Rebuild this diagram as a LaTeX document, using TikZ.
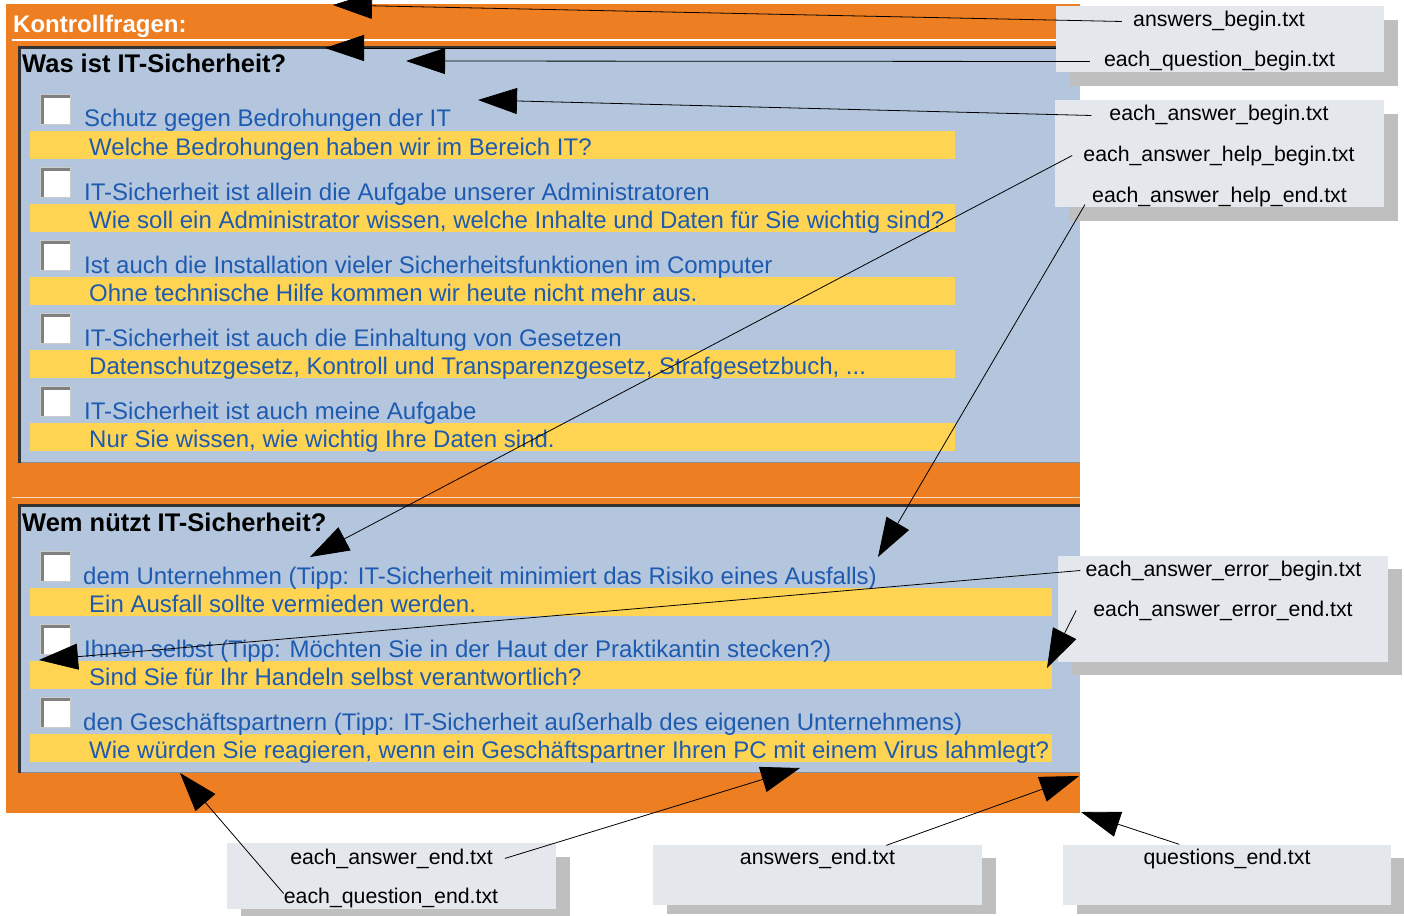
\documentclass[tikz,border=0pt]{standalone}
\usepackage{fontspec}
\setmainfont{Liberation Sans}
\usetikzlibrary{arrows.meta}
\definecolor{orng}{HTML}{EE7E22}
\definecolor{pnl}{HTML}{B3C6DE}
\definecolor{ylw}{HTML}{FFD452}
\definecolor{txtblue}{HTML}{1E5BB0}
\definecolor{lbox}{HTML}{E4E7EC}
\definecolor{shd}{HTML}{BFBFBF}
\definecolor{brd}{HTML}{333333}
\begin{document}
\begin{tikzpicture}[x=1pt,y=-1pt,
  ans/.style={anchor=base west, inner sep=0pt, text=txtblue, font=\fontsize{24}{28}\selectfont},
  hlp/.style={ans},
  ttl/.style={anchor=base west, inner sep=0pt, font=\fontsize{25.5}{30}\selectfont\bfseries},
  cb/.style={anchor=north west, minimum width=30pt, minimum height=30pt, inner sep=0pt, fill=white, draw=gray!40,
    path picture={\draw[line width=7pt, gray] (path picture bounding box.south west) |- (path picture bounding box.north east);}},
  bar/.style={fill=ylw},
  lbl/.style={anchor=base, inner sep=0pt, font=\fontsize{21.3}{25}\selectfont},
  shadow/.style={fill=shd},
  lboxs/.style={fill=lbox},
  conn/.style={line width=0.8pt, -{Triangle[length=39pt,width=26pt]}},
]
\useasboundingbox (0,0) rectangle (1404,915);
% outer orange frame
\fill[orng] (6,4) rectangle (1080,813);
\node[anchor=base west, inner sep=0pt, text=white, font=\fontsize{24}{28}\selectfont\bfseries] (hdr) at (13,33) {Kontrollfragen:};
\draw[white, line width=2pt] (12,40) -- (1080,40);
\draw[white!70!orng, line width=1pt] (12,497) -- (1080,497);
% panel 1
\fill[pnl] (18,46) rectangle (1080,463);
\draw[gray!80!pnl, line width=1pt] (18,462.5) -- (1080,462.5);
\draw[brd, line width=3pt] (19.5,463) -- (19.5,47.5) -- (1080,47.5);
% panel 2
\fill[pnl] (18,504) rectangle (1080,773);
\draw[gray!80!pnl, line width=1.5pt] (18,772.5) -- (1080,772.5);
\draw[brd, line width=3pt] (19.5,773) -- (19.5,505.5) -- (1080,505.5);
% question 1
\node[ttl] (q1) at (22,73) {Was ist IT-Sicherheit?};
\fill[bar] (30,131) rectangle (955,159);
\fill[bar] (30,204) rectangle (955,232);
\fill[bar] (30,277) rectangle (955,305);
\fill[bar] (30,350) rectangle (955,378);
\fill[bar] (30,423) rectangle (955,451);
\node[cb] (c11) at (40,94) {};
\node[cb] (c12) at (40,167) {};
\node[cb] (c13) at (40,240) {};
\node[cb] (c14) at (40,313) {};
\node[cb] (c15) at (40,386) {};
\node[ans] (a11) at (84,127) {Schutz gegen Bedrohungen der IT};
\node[hlp] (h11) at (89,155) {Welche Bedrohungen haben wir im Bereich IT?};
\node[ans] (a12) at (84,200) {IT-Sicherheit ist allein die Aufgabe unserer Administratoren};
\node[hlp] (h12) at (89,228) {Wie soll ein Administrator wissen, welche Inhalte und Daten für Sie wichtig sind?};
\node[ans] (a13) at (84,273) {Ist auch die Installation vieler Sicherheitsfunktionen im Computer};
\node[hlp] (h13) at (89,301) {Ohne technische Hilfe kommen wir heute nicht mehr aus.};
\node[ans] (a14) at (84,346) {IT-Sicherheit ist auch die Einhaltung von Gesetzen};
\node[hlp] (h14) at (89,374) {Datenschutzgesetz, Kontroll und Transparenzgesetz, Strafgesetzbuch, ...};
\node[ans] (a15) at (84,419) {IT-Sicherheit ist auch meine Aufgabe};
\node[hlp] (h15) at (89,447) {Nur Sie wissen, wie wichtig Ihre Daten sind.};
% question 2
\node[ttl] (q2) at (22,531) {Wem nützt IT-Sicherheit?};
\fill[bar] (30,588) rectangle (1052,616);
\fill[bar] (30,661) rectangle (1052,689);
\fill[bar] (30,734) rectangle (1052,762);
\node[cb] (c21) at (40,551) {};
\node[cb] (c22) at (40,624) {};
\node[cb] (c23) at (40,697) {};
\node[ans] (a21) at (83,584) {dem Unternehmen (Tipp: IT-Sicherheit minimiert das Risiko eines Ausfalls)};
\node[hlp] (h21) at (89,612) {Ein Ausfall sollte vermieden werden.};
\node[ans] (a22) at (84,657) {Ihnen selbst (Tipp: Möchten Sie in der Haut der Praktikantin stecken?)};
\node[hlp] (h22) at (89,685) {Sind Sie für Ihr Handeln selbst verantwortlich?};
\node[ans] (a23) at (83,730) {den Geschäftspartnern (Tipp: IT-Sicherheit außerhalb des eigenen Unternehmens)};
\node[hlp] (h23) at (89,758) {Wie würden Sie reagieren, wenn ein Geschäftspartner Ihren PC mit einem Virus lahmlegt?};
% label boxes
\fill[shadow] (1070,20) rectangle (1398,86);
\fill[lboxs] (1056,6) rectangle (1384,72);
\fill[shadow] (1069,114) rectangle (1398,221);
\fill[lboxs] (1055,100) rectangle (1384,207);
\fill[shadow] (1072,569) rectangle (1402,675);
\fill[lboxs] (1058,556) rectangle (1388,662);
\fill[shadow] (241,857) rectangle (570,920);
\fill[lboxs] (227,843) rectangle (556,909);
\fill[shadow] (667,858) rectangle (996,914);
\fill[lboxs] (653,845) rectangle (982,905);
\fill[shadow] (1077,858) rectangle (1404,914);
\fill[lboxs] (1063,845) rectangle (1391,905);
% labels
\node[lbl] (ab) at (1219,27) {answers\_begin.txt};
\node[lbl] (eqb) at (1219.5,67) {each\_question\_begin.txt};
\node[lbl] (eab) at (1219,121) {each\_answer\_begin.txt};
\node[lbl] (ahb) at (1219,161) {each\_answer\_help\_begin.txt};
\node[lbl] (ahe) at (1219.5,202) {each\_answer\_help\_end.txt};
\node[lbl] (aeb) at (1223.5,576) {each\_answer\_error\_begin.txt};
\node[lbl] (aee) at (1223,616) {each\_answer\_error\_end.txt};
\node[lbl] (ae) at (391.5,864) {each\_answer\_end.txt};
\node[lbl] (qe) at (391,903) {each\_question\_end.txt};
\node[lbl] (aend) at (817.5,864) {answers\_end.txt};
\node[lbl] (qend) at (1227,864) {questions\_end.txt};
% targets
\coordinate (t1) at (333,5);
\coordinate (t2a) at (325,48);
\coordinate (s2a) at (1056,48);
\coordinate (t2b) at (406,61);
\coordinate (t3) at (478,100);
\coordinate (t4) at (310,557);
\coordinate (t5) at (878,557);
\coordinate (t6) at (39,660);
\coordinate (t7) at (1047,668);
\coordinate (t8) at (180,773);
\coordinate (t9) at (800,768);
\coordinate (t10) at (1079,776);
\coordinate (t11) at (1081,812);
% connectors
\draw[conn] ([xshift=-11pt]ab.west) -- (t1);
\draw[conn] (s2a) -- (t2a);
\draw[conn] ([xshift=-14pt]eqb.west) -- (t2b);
\draw[conn] ([xshift=-18pt]eab.west) -- (t3);
\draw[conn] ([xshift=-11pt]ahb.west) -- (t4);
\draw[conn] ([xshift=-7pt,yshift=-8pt]ahe.west) -- (t5);
\draw[conn] ([xshift=-5pt]aeb.west) -- (t6);
\draw[conn] ([xshift=-17pt]aee.west) -- (t7);
\draw[conn] ([yshift=4pt]qe.west) -- (t8);
\draw[conn] ([xshift=12pt]ae.east) -- (t9);
\draw[conn] ([xshift=-9pt,yshift=3pt]aend.north east) -- (t10);
\draw[conn] ([xshift=36pt,yshift=4pt]qend.north west) -- (t11);
\end{tikzpicture}
\end{document}
